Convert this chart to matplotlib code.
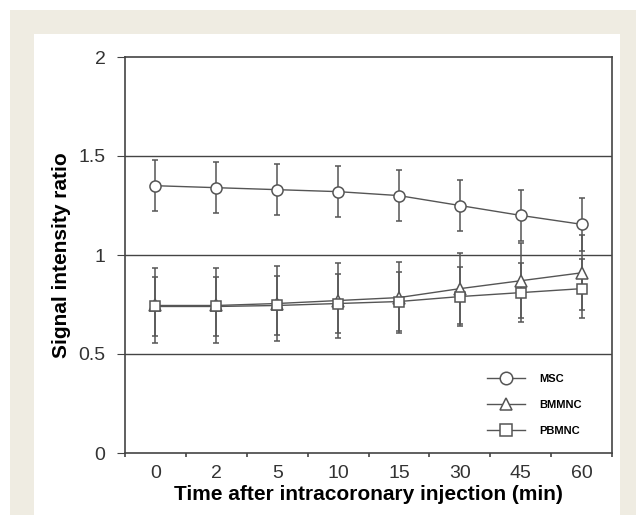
import matplotlib.pyplot as plt
from matplotlib.patches import Rectangle
from matplotlib.lines import Line2D

plt.rcParams['font.family'] = ['Liberation Sans', 'DejaVu Sans']

times = ['0', '2', '5', '10', '15', '30', '45', '60']
msc = [1.35, 1.34, 1.33, 1.32, 1.30, 1.25, 1.20, 1.155]
msc_err = [0.13, 0.13, 0.13, 0.13, 0.13, 0.13, 0.13, 0.135]
bmmnc = [0.745, 0.745, 0.755, 0.77, 0.785, 0.83, 0.87, 0.91]
bmmnc_err = [0.19, 0.19, 0.19, 0.19, 0.18, 0.18, 0.19, 0.19]
pbmnc = [0.74, 0.74, 0.745, 0.755, 0.765, 0.79, 0.81, 0.83]
pbmnc_err = [0.15, 0.15, 0.15, 0.15, 0.15, 0.15, 0.15, 0.15]

fig = plt.figure(figsize=(6.36, 5.15), dpi=100)
fig.patches.append(Rectangle((10/636, 0), 1, 1 - 10/515, transform=fig.transFigure,
                             facecolor='#efece2', edgecolor='none', zorder=-2))
fig.patches.append(Rectangle((34/636, 0), (620-34)/636, (515-34)/515, transform=fig.transFigure,
                             facecolor='white', edgecolor='none', zorder=-1))

ax = fig.add_axes([125/636, 62/515, (612-125)/636, (453-57)/515])
ax.set_facecolor('white')
x = list(range(len(times)))
lc = '#555555'

handles = []
for y, e, m, lab in [(msc, msc_err, 'o', 'MSC'), (bmmnc, bmmnc_err, '^', 'BMMNC'),
                     (pbmnc, pbmnc_err, 's', 'PBMNC')]:
    ms = 8 if m != 's' else 7
    ax.errorbar(x, y, yerr=e, fmt='-', marker=m, color=lc, lw=1, elinewidth=1.1,
                capsize=2.5, capthick=1.5, ms=ms,
                mfc='white', mec=lc, mew=1.1, zorder=3)
    handles.append(Line2D([], [], color=lc, lw=1, marker=m, ms=ms + 1, mfc='white',
                          mec=lc, mew=1.1, label=lab))

for v in [0.5, 1, 1.5]:
    ax.axhline(v, color='#444444', lw=1, zorder=1)

ax.set_xlim(-0.5, 7.5)
ax.set_ylim(0, 2)
ax.set_yticks([0, 0.5, 1, 1.5, 2])
ax.set_yticklabels(['0', '0.5', '1', '1.5', '2'])
ax.set_xticks(x)
ax.set_xticklabels(times)
ax.set_xticks([i - 0.5 for i in range(len(times) + 1)], minor=True)
ax.tick_params(axis='x', which='major', length=0, labelsize=14, pad=9, labelcolor='#333333')
ax.tick_params(axis='x', which='minor', length=3, width=1.2, color='#444444', direction='out')
ax.tick_params(axis='y', length=6, labelsize=14, pad=8, color='#444444', labelcolor='#333333')
for s in ax.spines.values():
    s.set_color('#444444')
    s.set_linewidth(1.2)

ax.set_xlabel('Time after intracoronary injection (min)', fontsize=15, fontweight='bold', labelpad=2)
ax.set_ylabel('Signal intensity ratio', fontsize=15, fontweight='bold', labelpad=5)

ax.legend(handles=handles, loc='center left', bbox_to_anchor=(0.743, 0.121), frameon=False,
          prop={'size': 8, 'weight': 'bold'}, handlelength=3.4, labelspacing=1.45,
          handletextpad=1.3, borderpad=0, borderaxespad=0)

fig.savefig('out.png', dpi=100)
